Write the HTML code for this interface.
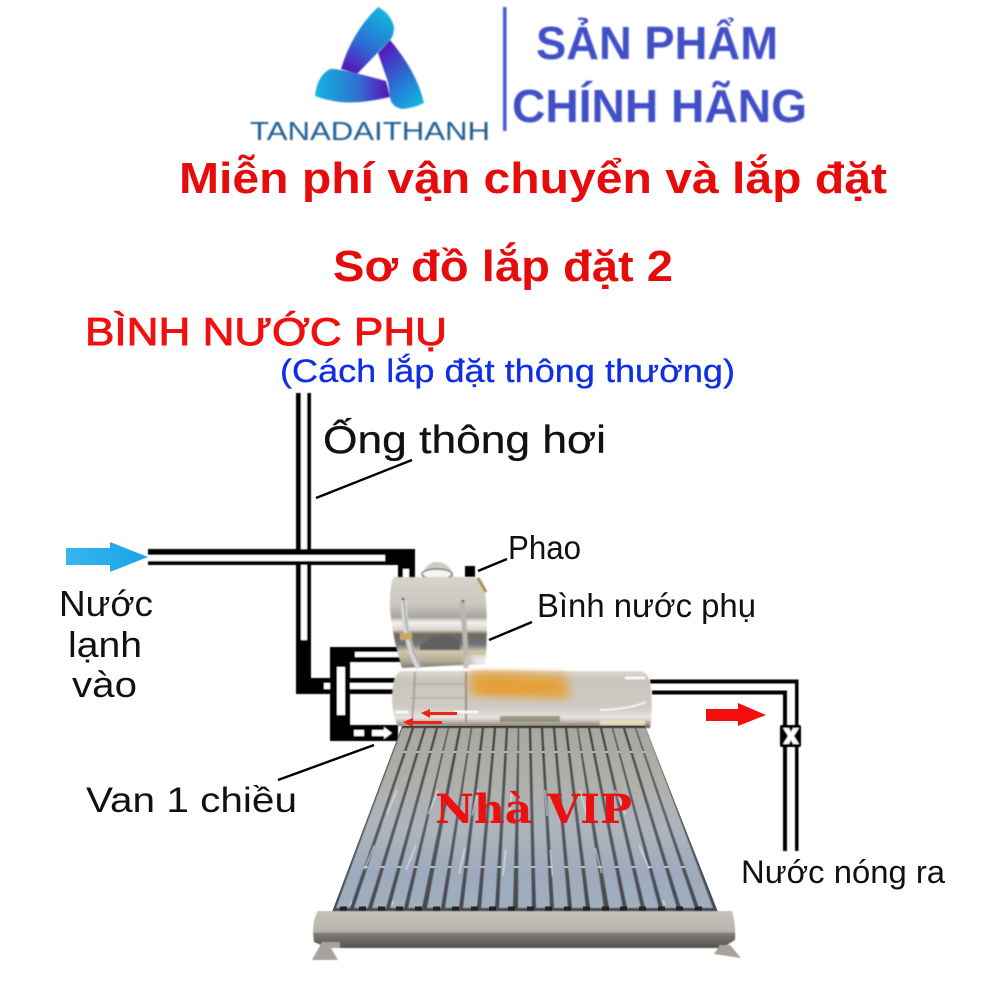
<!DOCTYPE html>
<html lang="vi"><head><meta charset="utf-8"><title>Sơ đồ lắp đặt 2</title>
<style>html,body{margin:0;padding:0;background:#fff}svg{display:block}text{font-family:"Liberation Sans","Noto Sans CJK SC",sans-serif}</style>
</head><body>
<svg xmlns="http://www.w3.org/2000/svg" width="1000" height="1000" viewBox="0 0 1000 1000">
<defs>
<linearGradient id="a1" x1="0.7" y1="0" x2="0.2" y2="1"><stop offset="0" stop-color="#12b5de"/><stop offset=".55" stop-color="#2c6fd4"/><stop offset="1" stop-color="#5a10b8"/></linearGradient>
<linearGradient id="a2" x1="0.2" y1="0" x2="0.8" y2="1"><stop offset="0" stop-color="#5a10b8"/><stop offset=".55" stop-color="#2c6fd4"/><stop offset="1" stop-color="#12b5de"/></linearGradient>
<linearGradient id="a3" x1="0" y1="0" x2="1" y2="0"><stop offset="0" stop-color="#12b5de"/><stop offset=".55" stop-color="#2f73d2"/><stop offset="1" stop-color="#5a10b8"/></linearGradient>
<linearGradient id="chr1" x1="0" y1="0" x2="0" y2="1"><stop offset="0" stop-color="#d6d3cb"/><stop offset=".3" stop-color="#cbc8c0"/><stop offset=".44" stop-color="#a8a59d"/><stop offset=".5" stop-color="#f2f1ec"/><stop offset=".58" stop-color="#d8d5cf"/><stop offset=".63" stop-color="#6f675a"/><stop offset=".74" stop-color="#70747a"/><stop offset=".82" stop-color="#d2c7ac"/><stop offset=".92" stop-color="#b5ab96"/><stop offset="1" stop-color="#7d786d"/></linearGradient>
<linearGradient id="chr2" x1="0" y1="0" x2="0" y2="1"><stop offset="0" stop-color="#dcd9d2"/><stop offset=".15" stop-color="#c9c5bd"/><stop offset=".65" stop-color="#cfcbc4"/><stop offset=".82" stop-color="#e6e4df"/><stop offset=".93" stop-color="#a39d90"/><stop offset="1" stop-color="#4f4b42"/></linearGradient>
<linearGradient id="panel" gradientUnits="userSpaceOnUse" x1="0" y1="730" x2="0" y2="912"><stop offset="0" stop-color="#3a3a38"/><stop offset=".45" stop-color="#565b62"/><stop offset="1" stop-color="#45494f"/></linearGradient>
<linearGradient id="tube" gradientUnits="userSpaceOnUse" x1="0" y1="730" x2="0" y2="908"><stop offset="0" stop-color="#a8a8a2"/><stop offset=".3" stop-color="#b0b0aa"/><stop offset=".55" stop-color="#aeb5bd"/><stop offset=".8" stop-color="#9dabbd"/><stop offset="1" stop-color="#a3aebd"/></linearGradient>
<linearGradient id="bar" x1="0" y1="0" x2="0" y2="1"><stop offset="0" stop-color="#c2c0b8"/><stop offset=".55" stop-color="#b7b5ad"/><stop offset=".62" stop-color="#7d7a74"/><stop offset="1" stop-color="#55534f"/></linearGradient>
<linearGradient id="blue" x1="0" y1="0" x2="1" y2="0"><stop offset="0" stop-color="#3ab4ec"/><stop offset="1" stop-color="#16a6e6"/></linearGradient>
<filter id="b1"><feGaussianBlur stdDeviation="0.7"/></filter>
<filter id="b2"><feGaussianBlur stdDeviation="5"/></filter>
<filter id="b3"><feGaussianBlur stdDeviation="0.5"/></filter>
</defs>

<!-- logo -->
<g filter="url(#b1)">
<path d="M378 7Q391 14 394 27Q394 36 390 40L357 74L341 69Q352 32 378 7Z" fill="url(#a1)"/>
<path d="M390 40L378 53L388 82L390 98Q392 107 402 109Q414 108 424 103Q417 72 390 40Z" fill="url(#a2)"/>
<path d="M330 69Q338 68 386 81L390 97Q360 104 340 102Q325 100 315 96Q317 76 330 69Z" fill="url(#a3)"/>
<rect x="503" y="7" width="3.5" height="124" fill="#4a5bd0"/>
<text x="536" y="59" font-size="46" font-weight="700" fill="#3f50c6" textLength="242" lengthAdjust="spacingAndGlyphs">SẢN PHẨM</text>
<text x="512" y="122" font-size="46" font-weight="700" fill="#3f50c6" textLength="295" lengthAdjust="spacingAndGlyphs">CHÍNH HÃNG</text>
<text x="250" y="140" font-size="26" fill="#1f5c8e" textLength="240" lengthAdjust="spacingAndGlyphs">TANADAITHANH</text>
</g>

<text x="179" y="193" font-size="44" font-weight="700" fill="#e60c0c" textLength="708" lengthAdjust="spacingAndGlyphs">Miễn phí vận chuyển và lắp đặt</text>
<text x="333" y="281" font-size="44" font-weight="700" fill="#e60c0c" textLength="340" lengthAdjust="spacingAndGlyphs">Sơ đồ lắp đặt 2</text>

<text x="85" y="345" font-size="39" fill="#f01010" stroke="#f01010" stroke-width=".9" textLength="362" lengthAdjust="spacingAndGlyphs">BÌNH NƯỚC PHỤ</text>
<text x="280" y="382" font-size="32" fill="#0f2fe6" stroke="#0f2fe6" stroke-width=".3" textLength="455" lengthAdjust="spacingAndGlyphs">(Cách lắp đặt thông thường)</text>
<text x="323" y="453" font-size="39" fill="#111" stroke="#111" stroke-width=".3" textLength="283" lengthAdjust="spacingAndGlyphs">Ống thông hơi</text>
<text x="508" y="559" font-size="33" fill="#111" textLength="73" lengthAdjust="spacingAndGlyphs">Phao</text>
<text x="537" y="617" font-size="33" fill="#111" textLength="219" lengthAdjust="spacingAndGlyphs">Bình nước phụ</text>
<text x="59" y="616" font-size="36" fill="#111" textLength="94" lengthAdjust="spacingAndGlyphs">Nước</text>
<text x="68" y="657" font-size="36" fill="#111" textLength="74" lengthAdjust="spacingAndGlyphs">lạnh</text>
<text x="72" y="697" font-size="36" fill="#111" textLength="65" lengthAdjust="spacingAndGlyphs">vào</text>
<text x="86" y="812" font-size="35" fill="#111" textLength="211" lengthAdjust="spacingAndGlyphs">Van 1 chiều</text>
<text x="741" y="883" font-size="32" fill="#111" textLength="204" lengthAdjust="spacingAndGlyphs">Nước nóng ra</text>

<!-- pipes -->
<g filter="url(#b3)">
<rect x="296" y="393" width="15" height="301"/>
<rect x="301" y="393" width="6" height="156" fill="#fff"/>
<rect x="301" y="565" width="6" height="75" fill="#fff"/>
<rect x="148" y="549" width="267" height="16"/>
<rect x="148" y="555" width="237" height="6" fill="#fff"/>
<rect x="398" y="549" width="17" height="35"/>
<rect x="403" y="569" width="6" height="15" fill="#fff"/>
<rect x="296" y="678" width="40" height="16"/>
<rect x="324" y="683" width="7" height="6" fill="#fff"/>
<rect x="330" y="647" width="20" height="94"/>
<rect x="337" y="667" width="8" height="48" fill="#fff"/>
<rect x="330" y="647" width="72" height="15"/>
<rect x="355" y="652" width="47" height="5" fill="#fff"/>
<rect x="345" y="678" width="50" height="16"/>
<rect x="350" y="683" width="45" height="6" fill="#fff"/>
<rect x="330" y="725" width="68" height="16"/>
<rect x="354" y="730" width="10" height="6" fill="#fff"/>
<path d="M372 730H384V727L392 733L384 739V736H372Z" fill="#fff"/>
<rect x="465" y="566" width="10" height="11"/>
<path d="M650 679.5H798.5V726H795V683.5H650Z"/>
<path d="M652 690.5H787V726H783V694.5H652Z"/>
<rect x="783" y="746" width="4" height="105"/><rect x="795" y="746" width="3.5" height="105"/>
<rect x="780" y="725" width="21" height="22" rx="2"/>
<path d="M783 728h6l2 4 2-4h6l-5 8 5 8h-6l-2-4-2 4h-6l5-8z" fill="#fff"/>
</g>
<g stroke="#000" stroke-width="2.4" fill="none">
<path d="M316 498L412 460"/><path d="M478 571L507 559"/><path d="M489 640L532 622"/><path d="M278 780L374 745"/>
</g>

<path d="M66 548H110V542L148 557L110 572V565H66Z" fill="url(#blue)"/>
<path d="M706 709H738V703L766 715L738 726V721H706Z" fill="#f40d0d"/>

<!-- upper tank -->
<g filter="url(#b1)">
<path d="M422 578Q425 562 437 562Q450 562 454 578Z" fill="#cdcac4"/>
<ellipse cx="437" cy="574" rx="15" ry="5" fill="#f6f5f2" stroke="#444" stroke-width="1.2"/>
<path d="M394 577H476Q484 578 486 600Q488 640 485 664L402 668Q393 640 390 610Q389 585 394 577Z" fill="url(#chr1)"/>
<path d="M404 600Q404 640 419 668" stroke="#d6d7d7" stroke-width="6" fill="none"/>
<path d="M404 600Q406 640 421 668" stroke="#8a8a86" stroke-width="1" fill="none"/>
<path d="M462 602Q466 640 466 668" stroke="#b9b6ae" stroke-width="5" fill="none"/>
<path d="M403 600v-2M463 602v-2" stroke="#444" stroke-width="3"/>
<path d="M478 578L486 592" stroke="#b08a4a" stroke-width="3"/>
<path d="M420 645Q440 630 460 640V650H420Z" fill="#5f6064"/>
<path d="M400 633H412V640H400Z" fill="#c9a864"/>
</g>

<!-- lower tank -->
<g filter="url(#b1)">
<path d="M400 671H640Q650 672 651 690Q653 712 650 728L398 726Q393 718 392 700Q392 676 400 671Z" fill="url(#chr2)"/>
<path d="M415 672Q414 700 412 722" stroke="#9a9288" stroke-width="1.5" fill="none"/>
<path d="M466 672V722" stroke="#777" stroke-width="1.5" fill="none"/>
<path d="M412 684H466M410 698H466" stroke="#a5a098" stroke-width="1"/>
<path d="M395 712H408M454 712H478" stroke="#fff" stroke-width="2.5"/>
<path d="M600 710Q630 709 646 702" stroke="#fff" stroke-width="1.5" fill="none"/>
<path d="M600 720H645V725H600Z" fill="#e8dcc0"/>
<path d="M500 716H560V722H500Z" fill="#7a7a62" opacity=".7"/>
<path d="M625 678H645" stroke="#fff" stroke-width="2.5"/>
</g>
<path d="M470 672C510 668 540 676 565 674L570 700C540 697 510 698 470 695Z" fill="#e3a545" filter="url(#b2)"/>
<rect x="480" y="682" width="70" height="12" fill="#e79a2c" opacity=".65" filter="url(#b2)"/>
<rect x="470" y="656" width="180" height="12" fill="#fff" filter="url(#b2)"/>
<path d="M421 713L430 709V712H457V715H430V718Z" fill="#ec2318"/>
<path d="M403 722L413 718V721H442V724H413V727Z" fill="#ec2318"/>

<!-- solar panel -->
<path d="M402 726H645L718 912H332Z" fill="url(#panel)"/>
<g stroke="#c4bda8" stroke-width="2"><path d="M397 752H654"/><path d="M358 867H692"/></g>
<g fill="url(#tube)" filter="url(#b3)">
<path d="M402 728h10L350 908h-14z"/><path d="M414 728h10L368 908h-14z"/><path d="M426 728h10L386 908h-14z"/><path d="M438 728h10L404 908h-14z"/><path d="M449 728h10L422 908h-14z"/><path d="M461 728h10L441 908h-14z"/><path d="M472 728h10L459 908h-14z"/><path d="M484 728h10L477 908h-14z"/><path d="M496 728h10L495 908h-14z"/><path d="M508 728h10L513 908h-14z"/><path d="M519 728h10L532 908h-14z"/><path d="M531 728h10L550 908h-14z"/><path d="M543 728h10L568 908h-14z"/><path d="M555 728h10L586 908h-14z"/><path d="M567 728h10L604 908h-14z"/><path d="M578 728h10L623 908h-14z"/><path d="M590 728h10L641 908h-14z"/><path d="M602 728h10L659 908h-14z"/><path d="M613 728h10L677 908h-14z"/><path d="M625 728h10L695 908h-14z"/><path d="M636 728h10L713 908h-14z"/>
</g>
<g stroke="#e4e9f0" stroke-width="2" opacity=".5" stroke-dasharray="26 34">
<path d="M397 790L350 905"/><path d="M438 790L392 905"/><path d="M478 790L452 905"/><path d="M512 790L500 905"/><path d="M545 790L555 905"/><path d="M580 790L610 905"/><path d="M615 790L665 905"/>
</g>
<g stroke="#222" stroke-width="5">
<path d="M340 909h7M359 909h7M378 909h7M396 909h7M415 909h7M433 909h7M452 909h7M471 909h7M489 909h7M508 909h7M527 909h7M545 909h7M564 909h7M583 909h7M602 909h7M620 909h7M639 909h7M658 909h7M676 909h7M695 909h7"/>
</g>

<!-- bottom bar -->
<g filter="url(#b3)">
<path d="M318 911H732Q736 925 735 940L722 948H328L314 942Q311 922 318 911Z" fill="url(#bar)"/>
<path d="M322 942L312 960L338 960L331 948H340V942Z" fill="#a5a39b"/>
<path d="M720 945L714 954L741 958L730 945Z" fill="#a5a39b"/>
</g>
<text x="435" y="823" font-size="40" font-weight="700" fill="#ee1010" style="font-family:'DejaVu Serif','Liberation Serif',serif" textLength="197" lengthAdjust="spacingAndGlyphs">Nhà VIP</text>
</svg>
</body></html>
